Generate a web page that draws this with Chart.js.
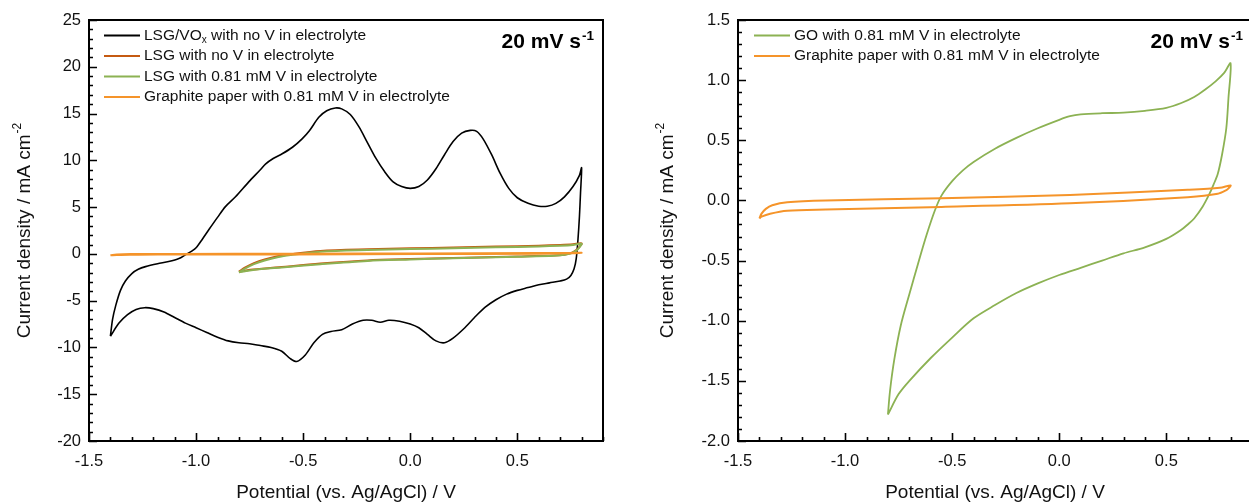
<!DOCTYPE html>
<html><head><meta charset="utf-8">
<script src="https://cdn.jsdelivr.net/npm/chart.js@4.4.1/dist/chart.umd.min.js"></script>
<style>
html,body{margin:0;padding:0;background:#fff;overflow:hidden;width:1249px;height:504px;position:relative;}
canvas{position:absolute;top:0;}
#c1{left:0;} #c2{left:649px;}
</style></head><body>
<canvas id="c1" width="640" height="504"></canvas>
<canvas id="c2" width="620" height="504"></canvas>
<script>
// ---------- data ----------
const xTicks = [-1.5, -1.0, -0.5, 0.0, 0.5];
const yTicksLeft = [-20, -15, -10, -5, 0, 5, 10, 15, 20, 25];
const yTicksRight = [-2.0, -1.5, -1.0, -0.5, 0.0, 0.5, 1.0, 1.5];

const seriesLabelsLeft = ['LSG/VO_x with no V in electrolyte', 'LSG with no V in electrolyte',
  'LSG with 0.81 mM V in electrolyte', 'Graphite paper with 0.81 mM V in electrolyte'];
const seriesLabelsRight = ['GO with 0.81 mM V in electrolyte', 'Graphite paper with 0.81 mM V in electrolyte'];
const rateLabel = '20 mV s';

// LSG/VOx, no V (closed CV loop)
const voxV = [-1.40,-1.39,-1.375,-1.353,-1.33,-1.30,-1.27,-1.236,-1.18,-1.128,-1.08,-1.05,-1.02,-1.00,-0.97,-0.94,-0.90,-0.863,-0.816,-0.754,-0.70,-0.676,-0.64,-0.598,-0.55,-0.505,-0.47,-0.427,-0.39,-0.35,-0.32,-0.28,-0.24,-0.20,-0.16,-0.12,-0.08,-0.04,0.00,0.04,0.08,0.12,0.16,0.20,0.24,0.28,0.31,0.34,0.38,0.42,0.46,0.50,0.55,0.60,0.64,0.68,0.72,0.76,0.79,0.80,
  0.795,0.79,0.783,0.775,0.765,0.75,0.73,0.70,0.65,0.60,0.55,0.50,0.45,0.40,0.35,0.30,0.25,0.20,0.16,0.12,0.08,0.04,0.00,-0.05,-0.10,-0.14,-0.18,-0.22,-0.27,-0.32,-0.37,-0.41,-0.45,-0.49,-0.53,-0.56,-0.60,-0.65,-0.70,-0.75,-0.80,-0.85,-0.90,-0.95,-1.00,-1.05,-1.10,-1.15,-1.20,-1.24,-1.28,-1.32,-1.36,-1.40];
const voxI = [-8.8,-7.0,-5.5,-3.9,-2.9,-2.1,-1.65,-1.36,-1.05,-0.82,-0.5,-0.1,0.3,0.65,1.6,2.6,3.9,5.05,6.1,7.7,9.0,9.6,10.2,10.7,11.4,12.3,13.2,14.6,15.3,15.6,15.5,14.9,13.6,11.9,10.2,8.8,7.7,7.2,7.0,7.2,7.9,9.1,10.6,12.0,12.9,13.2,13.1,12.3,10.6,8.6,7.0,6.0,5.4,5.1,5.1,5.4,6.1,7.2,8.4,9.2,
  6.5,4.0,1.5,-0.5,-1.6,-2.3,-2.7,-2.9,-3.1,-3.3,-3.6,-3.9,-4.3,-4.9,-5.7,-6.8,-8.0,-9.0,-9.5,-9.3,-8.6,-7.9,-7.5,-7.2,-7.1,-7.3,-7.1,-7.1,-7.5,-8.1,-8.3,-8.6,-9.5,-10.8,-11.5,-11.2,-10.4,-10.0,-9.8,-9.6,-9.5,-9.3,-8.9,-8.4,-7.9,-7.4,-6.8,-6.2,-5.85,-5.75,-5.95,-6.5,-7.4,-8.8];

// LSG, no V
const lsgNoVV = [-0.80,-0.77,-0.73,-0.68,-0.62,-0.55,-0.42,-0.20,0.00,0.20,0.40,0.60,0.70,0.76,0.80,0.79,0.775,0.755,0.72,0.67,0.50,0.20,0.00,-0.20,-0.42,-0.60,-0.734,-0.78,-0.80];
const lsgNoVI = [-1.90,-1.45,-1.00,-0.60,-0.25,0.00,0.32,0.50,0.60,0.68,0.78,0.88,0.95,1.02,1.12,0.75,0.40,0.12,-0.08,-0.17,-0.27,-0.43,-0.55,-0.70,-1.04,-1.40,-1.68,-1.83,-1.90];

// LSG, 0.81 mM V
const lsgVV = [-0.80,-0.77,-0.73,-0.68,-0.62,-0.55,-0.42,-0.20,0.00,0.20,0.40,0.60,0.70,0.76,0.80,0.79,0.775,0.755,0.72,0.67,0.50,0.20,0.00,-0.20,-0.42,-0.60,-0.734,-0.78,-0.80];
const lsgVI = [-1.97,-1.55,-1.10,-0.70,-0.35,-0.08,0.24,0.42,0.52,0.60,0.70,0.80,0.88,0.96,1.08,0.70,0.35,0.10,-0.10,-0.20,-0.30,-0.47,-0.60,-0.75,-1.10,-1.45,-1.72,-1.88,-1.97];

// Graphite paper, 0.81 mM V
const gpV = [-1.40,-1.39,-1.37,-1.34,-1.27,-1.09,-0.55,0.05,0.60,0.75,0.80,0.79,0.78,0.74,0.60,0.05,-0.55,-1.09,-1.27,-1.35,-1.39,-1.40];
const gpI = [-0.15,-0.11,-0.07,-0.04,-0.015,0.0,0.018,0.045,0.088,0.105,0.125,0.10,0.085,0.055,0.027,-0.024,-0.054,-0.075,-0.085,-0.11,-0.135,-0.15];

// GO, 0.81 mM V
const goV = [-0.80,-0.79,-0.77,-0.74,-0.70,-0.66,-0.62,-0.58,-0.55,-0.50,-0.45,-0.40,-0.30,-0.20,-0.10,0.00,0.05,0.10,0.20,0.30,0.40,0.50,0.57,0.63,0.68,0.73,0.77,0.80,
  0.79,0.78,0.76,0.74,0.72,0.70,0.67,0.63,0.60,0.565,0.50,0.40,0.30,0.20,0.10,0.00,-0.10,-0.20,-0.30,-0.40,-0.50,-0.60,-0.70,-0.75,-0.80];
const goI = [-1.78,-1.58,-1.32,-1.04,-0.78,-0.53,-0.29,-0.08,0.04,0.16,0.25,0.32,0.43,0.52,0.60,0.67,0.70,0.715,0.725,0.73,0.745,0.77,0.81,0.86,0.92,0.99,1.06,1.14,
  0.85,0.60,0.38,0.22,0.13,0.05,-0.05,-0.15,-0.20,-0.25,-0.32,-0.39,-0.44,-0.50,-0.56,-0.62,-0.69,-0.77,-0.87,-0.98,-1.14,-1.31,-1.50,-1.61,-1.78];

// ---------- helpers ----------
const FONT = '"Liberation Sans", Arial, sans-serif';
const pts = (xs, ys) => xs.map((x, i) => ({x: x, y: ys[i]}));
const ds = (label, xs, ys, color, width, order) => ({
  label, data: pts(xs, ys), borderColor: color, backgroundColor: color,
  borderWidth: width, pointRadius: 0, showLine: true, tension: 0.3, fill: false, order
});

function drawSup(ctx, x, y, main, sup, mainFont, supFont, rise) {
  ctx.font = mainFont; ctx.fillText(main, x, y);
  const w = ctx.measureText(main).width;
  ctx.font = supFont; ctx.fillText(sup, x + w + 1, y - rise);
}

const decor = {
  id: 'decor',
  afterDraw(chart, args, o) {
    const ctx = chart.ctx, a = chart.chartArea, xs = chart.scales.x, ys = chart.scales.y;
    ctx.save();
    // frame
    ctx.strokeStyle = '#000'; ctx.lineWidth = 2;
    ctx.strokeRect(a.left, a.top, a.right - a.left, a.bottom - a.top);
    // inward ticks
    ctx.lineWidth = 1.6;
    ctx.beginPath();
    for (let i = -15; i <= 9; i++) {
      const px = Math.round(xs.getPixelForValue(i / 10)) + 0.5;
      const len = (i % 5 === 0) ? 8 : 4;
      ctx.moveTo(px, a.bottom); ctx.lineTo(px, a.bottom - len);
    }
    const n0 = Math.round(o.yMin / o.yMinor), n1 = Math.round(o.yMax / o.yMinor);
    const per = Math.round(o.yMajor / o.yMinor);
    for (let k = n0; k <= n1; k++) {
      const py = Math.round(ys.getPixelForValue(k * o.yMinor)) + 0.5;
      const len = (k % per === 0) ? 8 : 4;
      ctx.moveTo(a.left, py); ctx.lineTo(a.left + len, py);
    }
    ctx.stroke();
    // legend
    ctx.fillStyle = '#111'; ctx.textBaseline = 'middle'; ctx.textAlign = 'left';
    chart.data.datasets.forEach((d, i) => {
      const y = o.legY + i * o.legDy;
      ctx.strokeStyle = d.borderColor; ctx.lineWidth = 2;
      ctx.beginPath(); ctx.moveTo(o.legX, y); ctx.lineTo(o.legX + 36, y); ctx.stroke();
      const tx = o.legX + 40;
      const f = '15.5px ' + FONT;
      if (d.label.indexOf('_x') >= 0) {
        const parts = d.label.split('_x');
        ctx.font = f; ctx.fillText(parts[0], tx, y);
        let w = ctx.measureText(parts[0]).width;
        ctx.font = '10px ' + FONT; ctx.fillText('x', tx + w, y + 5);
        w += ctx.measureText('x').width;
        ctx.font = f; ctx.fillText(parts[1], tx + w, y);
      } else {
        ctx.font = f; ctx.fillText(d.label, tx, y);
      }
    });
    // rate annotation
    ctx.textBaseline = 'alphabetic'; ctx.fillStyle = '#000';
    const mf = 'bold 21px ' + FONT, sf = 'bold 13.5px ' + FONT;
    ctx.font = mf; const w1 = ctx.measureText(rateLabel).width;
    ctx.font = sf; const w2 = ctx.measureText('-1').width;
    drawSup(ctx, a.right - 9 - w1 - w2 - 1, 48, rateLabel, '-1', mf, sf, 8);
    // axis titles
    ctx.fillStyle = '#111';
    ctx.font = '19px ' + FONT; ctx.textAlign = 'center';
    ctx.fillText('Potential (vs. Ag/AgCl) / V', (a.left + a.right) / 2, 498);
    ctx.save();
    ctx.translate(o.yTitleX, (a.top + a.bottom) / 2);
    ctx.rotate(-Math.PI / 2);
    ctx.textAlign = 'left'; ctx.textBaseline = 'middle';
    const t1 = 'Current density / mA cm', t2 = '-2';
    ctx.font = '19px ' + FONT; const tw1 = ctx.measureText(t1).width;
    ctx.font = '12px ' + FONT; const tw2 = ctx.measureText(t2).width;
    drawSup(ctx, -(tw1 + tw2 + 1) / 2, 0, t1, t2, '19px ' + FONT, '12px ' + FONT, 7);
    ctx.restore();
    ctx.restore();
  }
};

function makeChart(id, datasets, yMin, yMax, yTicks, yFmt, padRight, opts) {
  const tickFont = {family: FONT, size: 16.5};
  return new Chart(document.getElementById(id), {
    type: 'scatter',
    data: {datasets},
    plugins: [decor],
    options: {
      responsive: false, animation: false, devicePixelRatio: 1,
      layout: {padding: {top: 20, right: padRight, bottom: 0, left: 0}},
      plugins: {legend: {display: false}, tooltip: {enabled: false}, decor: opts},
      scales: {
        x: {type: 'linear', min: -1.5, max: 0.9,
          grid: {display: false, drawTicks: false}, border: {display: false},
          ticks: {font: tickFont, color: '#111', padding: 11, maxRotation: 0, autoSkip: false,
            callback: v => Number(v).toFixed(1)},
          afterBuildTicks: s => { s.ticks = xTicks.map(v => ({value: v})); },
          afterFit: s => { s.height = 63; }},
        y: {type: 'linear', min: yMin, max: yMax,
          grid: {display: false, drawTicks: false}, border: {display: false},
          ticks: {font: tickFont, color: '#111', padding: 8, autoSkip: false, callback: yFmt},
          afterBuildTicks: s => { s.ticks = yTicks.map(v => ({value: v})); },
          afterFit: s => { s.width = 89; }}
      }
    }
  });
}

const BLACK = '#000000', DKOR = '#c55a11', GREEN = '#8cb253', ORANGE = '#f5942a';

makeChart('c1', [
  ds(seriesLabelsLeft[0], voxV, voxI, BLACK, 1.6, 3),
  ds(seriesLabelsLeft[1], lsgNoVV, lsgNoVI, DKOR, 2, 2),
  ds(seriesLabelsLeft[2], lsgVV, lsgVI, GREEN, 2, 1),
  ds(seriesLabelsLeft[3], gpV, gpI, ORANGE, 2, 0)
], -20, 25, yTicksLeft, v => String(v), 37,
  {legX: 104, legY: 35.5, legDy: 20.5, yMin: -20, yMax: 25, yMinor: 1, yMajor: 5, yTitleX: 25});

makeChart('c2', [
  ds(seriesLabelsRight[0], goV, goI, GREEN, 1.8, 1),
  ds(seriesLabelsRight[1], gpV, gpI, ORANGE, 2, 0)
], -2.0, 1.5, yTicksRight, v => Number(v).toFixed(1), 17,
  {legX: 105, legY: 35.5, legDy: 20.5, yMin: -2.0, yMax: 1.5, yMinor: 0.1, yMajor: 0.5, yTitleX: 19});
</script>
</body></html>
